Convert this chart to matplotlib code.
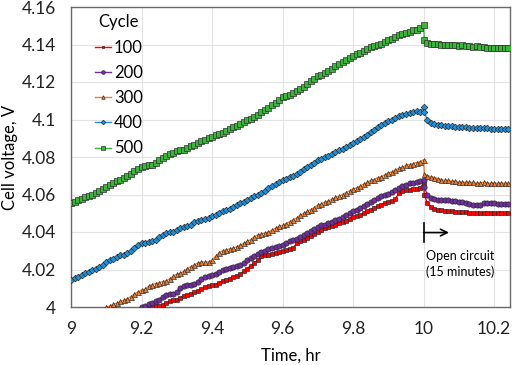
import numpy as np
import matplotlib
matplotlib.use("Agg")
import matplotlib.pyplot as plt

plt.rcParams['font.family'] = ['Lato', 'DejaVu Sans']

# sample times (hr) during charge and during the open-circuit rest
t_charge = [9.00, 9.01, 9.02, 9.03, 9.04, 9.05, 9.06, 9.07, 9.08, 9.09,
            9.10, 9.11, 9.12, 9.13, 9.14, 9.15, 9.16, 9.17, 9.18, 9.19,
            9.20, 9.21, 9.22, 9.23, 9.24, 9.25, 9.26, 9.27, 9.28, 9.29,
            9.30, 9.31, 9.32, 9.33, 9.34, 9.35, 9.36, 9.37, 9.38, 9.39,
            9.40, 9.41, 9.42, 9.43, 9.44, 9.45, 9.46, 9.47, 9.48, 9.49,
            9.50, 9.51, 9.52, 9.53, 9.54, 9.55, 9.56, 9.57, 9.58, 9.59,
            9.60, 9.61, 9.62, 9.63, 9.64, 9.65, 9.66, 9.67, 9.68, 9.69,
            9.70, 9.71, 9.72, 9.73, 9.74, 9.75, 9.76, 9.77, 9.78, 9.79,
            9.80, 9.81, 9.82, 9.83, 9.84, 9.85, 9.86, 9.87, 9.88, 9.89,
            9.90, 9.91, 9.92, 9.93, 9.94, 9.95, 9.96, 9.97, 9.98, 9.99,
            10.00]
t_rest = [10.002, 10.01, 10.02, 10.03, 10.04, 10.05, 10.06, 10.07, 10.08,
          10.09, 10.10, 10.11, 10.12, 10.13, 10.14, 10.15, 10.16, 10.17,
          10.18, 10.19, 10.20, 10.21, 10.22, 10.23, 10.24]

# cycle 500, charge from 9.00 hr
v500 = [4.0555, 4.0560, 4.0570, 4.0575, 4.0585, 4.0590, 4.0600, 4.0610, 4.0620, 4.0630,
        4.0640, 4.0650, 4.0660, 4.0670, 4.0675, 4.0690, 4.0700, 4.0710, 4.0725, 4.0735,
        4.0745, 4.0750, 4.0755, 4.0760, 4.0770, 4.0785, 4.0795, 4.0805, 4.0815, 4.0820,
        4.0830, 4.0835, 4.0840, 4.0850, 4.0860, 4.0865, 4.0875, 4.0885, 4.0890, 4.0900,
        4.0905, 4.0915, 4.0925, 4.0930, 4.0940, 4.0950, 4.0960, 4.0965, 4.0975, 4.0985,
        4.0995, 4.1005, 4.1015, 4.1025, 4.1040, 4.1050, 4.1060, 4.1075, 4.1090, 4.1105,
        4.1120, 4.1125, 4.1130, 4.1140, 4.1150, 4.1165, 4.1175, 4.1190, 4.1205, 4.1215,
        4.1230, 4.1240, 4.1250, 4.1260, 4.1270, 4.1285, 4.1295, 4.1305, 4.1315, 4.1330,
        4.1340, 4.1350, 4.1355, 4.1365, 4.1375, 4.1385, 4.1390, 4.1400, 4.1405, 4.1415,
        4.1425, 4.1430, 4.1440, 4.1450, 4.1455, 4.1460, 4.1465, 4.1475, 4.1480, 4.1490,
        4.1505]
v500_rest = [4.1425, 4.1410, 4.1405, 4.1405, 4.1405, 4.1400, 4.1400, 4.1395, 4.1395,
             4.1395, 4.1390, 4.1395, 4.1390, 4.1390, 4.1385, 4.1390, 4.1385, 4.1385,
             4.1380, 4.1380, 4.1380, 4.1380, 4.1380, 4.1380, 4.1380]

# cycle 400, charge from 9.00 hr
v400 = [4.0145, 4.0155, 4.0160, 4.0170, 4.0180, 4.0185, 4.0195, 4.0205, 4.0215, 4.0225,
        4.0240, 4.0250, 4.0255, 4.0265, 4.0275, 4.0280, 4.0290, 4.0300, 4.0315, 4.0330,
        4.0340, 4.0340, 4.0345, 4.0350, 4.0360, 4.0375, 4.0385, 4.0395, 4.0400, 4.0400,
        4.0410, 4.0420, 4.0425, 4.0430, 4.0440, 4.0455, 4.0460, 4.0465, 4.0470, 4.0475,
        4.0485, 4.0490, 4.0500, 4.0510, 4.0520, 4.0525, 4.0535, 4.0545, 4.0555, 4.0560,
        4.0570, 4.0580, 4.0590, 4.0600, 4.0610, 4.0620, 4.0635, 4.0645, 4.0655, 4.0665,
        4.0675, 4.0685, 4.0695, 4.0700, 4.0710, 4.0720, 4.0735, 4.0745, 4.0760, 4.0770,
        4.0785, 4.0790, 4.0800, 4.0805, 4.0815, 4.0825, 4.0835, 4.0845, 4.0855, 4.0865,
        4.0875, 4.0885, 4.0895, 4.0905, 4.0920, 4.0935, 4.0945, 4.0960, 4.0970, 4.0980,
        4.0990, 4.1000, 4.1010, 4.1020, 4.1025, 4.1030, 4.1035, 4.1040, 4.1045, 4.1040,
        4.1065]
v400_rest = [4.1040, 4.1000, 4.0980, 4.0975, 4.0970, 4.0970, 4.0965, 4.0965, 4.0965,
             4.0960, 4.0960, 4.0960, 4.0960, 4.0955, 4.0955, 4.0955, 4.0955, 4.0955,
             4.0955, 4.0950, 4.0950, 4.0950, 4.0950, 4.0950, 4.0950]

# cycle 300, charge from 9.10 hr
v300 = [4.0000, 4.0005, 4.0015, 4.0020, 4.0030, 4.0035, 4.0045, 4.0055, 4.0070, 4.0080,
        4.0090, 4.0095, 4.0110, 4.0120, 4.0125, 4.0130, 4.0135, 4.0140, 4.0150, 4.0165,
        4.0175, 4.0180, 4.0190, 4.0205, 4.0215, 4.0225, 4.0235, 4.0240, 4.0240, 4.0240,
        4.0250, 4.0270, 4.0290, 4.0300, 4.0305, 4.0310, 4.0315, 4.0320, 4.0330, 4.0340,
        4.0350, 4.0360, 4.0375, 4.0385, 4.0390, 4.0395, 4.0400, 4.0410, 4.0420, 4.0430,
        4.0435, 4.0445, 4.0455, 4.0465, 4.0475, 4.0490, 4.0500, 4.0510, 4.0520, 4.0530,
        4.0545, 4.0550, 4.0560, 4.0565, 4.0575, 4.0585, 4.0590, 4.0600, 4.0610, 4.0620,
        4.0630, 4.0635, 4.0645, 4.0655, 4.0665, 4.0675, 4.0680, 4.0690, 4.0695, 4.0705,
        4.0715, 4.0720, 4.0730, 4.0740, 4.0745, 4.0755, 4.0760, 4.0765, 4.0770, 4.0775,
        4.0785]
v300_rest = [4.0710, 4.0700, 4.0695, 4.0690, 4.0685, 4.0680, 4.0675, 4.0675, 4.0670,
             4.0670, 4.0665, 4.0665, 4.0665, 4.0665, 4.0665, 4.0660, 4.0660, 4.0665,
             4.0660, 4.0660, 4.0660, 4.0660, 4.0660, 4.0660, 4.0660]

# cycle 200, charge from 9.20 hr
v200 = [4.0000, 4.0005, 4.0015, 4.0020, 4.0030, 4.0040, 4.0055, 4.0065, 4.0070, 4.0070,
        4.0080, 4.0100, 4.0110, 4.0115, 4.0120, 4.0125, 4.0135, 4.0150, 4.0160, 4.0165,
        4.0170, 4.0175, 4.0185, 4.0200, 4.0205, 4.0210, 4.0215, 4.0220, 4.0225, 4.0235,
        4.0250, 4.0260, 4.0270, 4.0285, 4.0295, 4.0300, 4.0310, 4.0315, 4.0320, 4.0325,
        4.0330, 4.0340, 4.0350, 4.0355, 4.0365, 4.0375, 4.0385, 4.0395, 4.0405, 4.0415,
        4.0425, 4.0435, 4.0440, 4.0450, 4.0455, 4.0465, 4.0470, 4.0480, 4.0490, 4.0500,
        4.0510, 4.0520, 4.0530, 4.0540, 4.0550, 4.0560, 4.0570, 4.0580, 4.0590, 4.0595,
        4.0605, 4.0615, 4.0625, 4.0635, 4.0645, 4.0650, 4.0660, 4.0660, 4.0665, 4.0670,
        4.0680]
v200_rest = [4.0640, 4.0600, 4.0580, 4.0575, 4.0570, 4.0570, 4.0570, 4.0570, 4.0565,
             4.0565, 4.0560, 4.0560, 4.0555, 4.0550, 4.0545, 4.0545, 4.0545, 4.0555,
             4.0555, 4.0555, 4.0555, 4.0550, 4.0550, 4.0550, 4.0550]

# cycle 100, charge from 9.22 hr
v100 = [4.0000, 4.0000, 4.0005, 4.0005, 4.0010, 4.0020, 4.0030, 4.0035, 4.0040, 4.0050,
        4.0060, 4.0065, 4.0070, 4.0080, 4.0085, 4.0095, 4.0105, 4.0110, 4.0115, 4.0120,
        4.0130, 4.0140, 4.0145, 4.0150, 4.0160, 4.0165, 4.0175, 4.0190, 4.0205, 4.0220,
        4.0235, 4.0250, 4.0270, 4.0275, 4.0280, 4.0285, 4.0290, 4.0295, 4.0300, 4.0305,
        4.0310, 4.0315, 4.0340, 4.0350, 4.0360, 4.0370, 4.0380, 4.0390, 4.0400, 4.0410,
        4.0420, 4.0425, 4.0430, 4.0440, 4.0450, 4.0455, 4.0460, 4.0470, 4.0480, 4.0485,
        4.0490, 4.0500, 4.0510, 4.0520, 4.0530, 4.0540, 4.0545, 4.0555, 4.0560, 4.0565,
        4.0575, 4.0610, 4.0620, 4.0625, 4.0625, 4.0630, 4.0630, 4.0635, 4.0660]
v100_rest = [4.0600, 4.0555, 4.0535, 4.0525, 4.0520, 4.0515, 4.0510, 4.0510, 4.0510,
             4.0505, 4.0505, 4.0505, 4.0505, 4.0500, 4.0500, 4.0500, 4.0500, 4.0500,
             4.0500, 4.0500, 4.0500, 4.0500, 4.0500, 4.0500, 4.0500]

cycles = ['100', '200', '300', '400', '500']
start_idx = [22, 20, 10, 0, 0]
charge = [v100, v200, v300, v400, v500]
rest = [v100_rest, v200_rest, v300_rest, v400_rest, v500_rest]
colors = ['#ff0000', '#7030a0', '#ed7d31', '#1f8fd8', '#3cb43c']
markers = ['s', 'o', '^', 'D', 's']
msizes = [2.6, 3.8, 3.6, 3.4, 4.2]

fig = plt.figure(figsize=(5.12, 3.65), dpi=100)
ax = fig.add_axes([71/512, 1 - 307/365, 439/512, 300/365])

for lab, i0, vc, vr, c, m, ms in zip(cycles, start_idx, charge, rest, colors, markers, msizes):
    t = t_charge[i0:] + t_rest
    v = vc + vr
    ax.plot(t, v, color=c, lw=1.0, marker=m, ms=ms, mfc=c, mec='#222222',
            mew=0.45, label=lab, zorder=3)

ax.set_xlim(9, 10.245)
ax.set_ylim(4.0, 4.16)
ax.set_xticks([9, 9.2, 9.4, 9.6, 9.8, 10, 10.2])
ax.set_xticklabels(['9', '9.2', '9.4', '9.6', '9.8', '10', '10.2'])
ax.set_yticks([4.0, 4.02, 4.04, 4.06, 4.08, 4.1, 4.12, 4.14, 4.16])
ax.set_yticklabels(['4', '4.02', '4.04', '4.06', '4.08', '4.1', '4.12', '4.14', '4.16'])
ax.tick_params(length=0, labelsize=12.5, colors='#222222')
ax.tick_params(axis='y', pad=11)
ax.tick_params(axis='x', pad=10)
ax.grid(True, color='#e3e3e3', lw=0.8, zorder=0)
for s in ax.spines.values():
    s.set_color('#6a6a6a')
    s.set_linewidth(1.0)

ax.set_xlabel('Time, hr', fontsize=12)
ax.set_ylabel('Cell voltage, V', fontsize=12)
ax.xaxis.set_label_coords(0.5, -0.135)
ax.yaxis.set_label_coords(-0.121, 0.5)

# open-circuit marker
ax.plot([10, 10], [4.0345, 4.045], color='black', lw=1.2, zorder=4)
ax.annotate('', xy=(10.072, 4.0397), xytext=(10.0, 4.0397),
            arrowprops=dict(arrowstyle='->', color='black', lw=1.2,
                            mutation_scale=12, shrinkA=0, shrinkB=0))
ax.text(10.006, 4.0272, 'Open circuit', fontsize=9, va='center', ha='left')
ax.text(10.006, 4.0189, '(15 minutes)', fontsize=9, va='center', ha='left')

leg = ax.legend(title='Cycle', loc='upper left', bbox_to_anchor=(0.02, 1.025),
                frameon=False, fontsize=12, title_fontsize=12,
                handlelength=1.0, handletextpad=0.15, labelspacing=0.55,
                markerscale=0.7)

fig.savefig('out.png', dpi=100)
